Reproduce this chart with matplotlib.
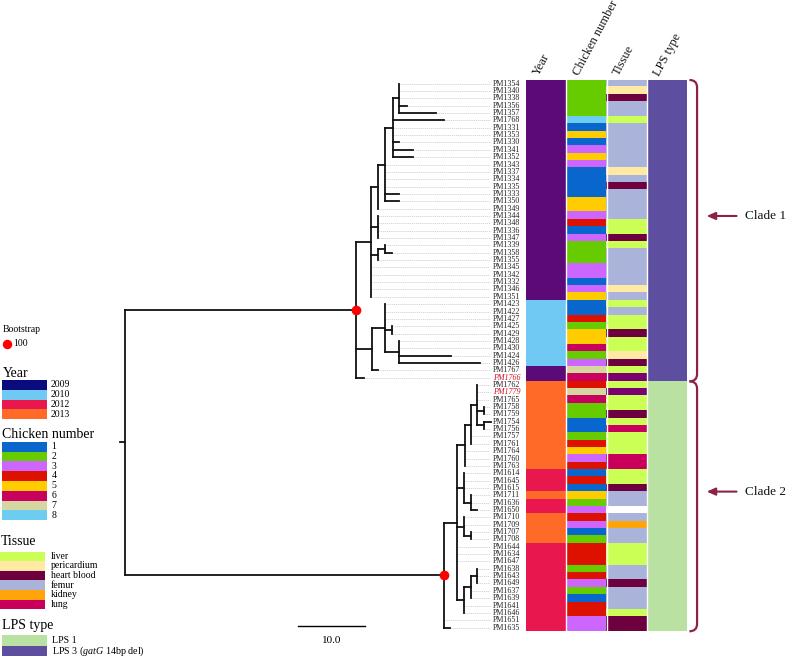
import matplotlib
matplotlib.use("Agg")
import matplotlib.pyplot as plt
import matplotlib.colors as mcolors
from matplotlib.collections import LineCollection
from matplotlib.path import Path
from matplotlib.patches import PathPatch, Rectangle
import numpy as np

plt.rcParams['font.family'] = ['Liberation Serif', 'DejaVu Serif']
plt.rcParams['mathtext.fontset'] = 'custom'
plt.rcParams['mathtext.rm'] = 'Liberation Serif'
plt.rcParams['mathtext.it'] = 'Liberation Serif:italic'

# ---------------- data ----------------
# tree, branch lengths in scale-bar units, bootstrap as internal labels
tree_newick = (
    "((("
    "((((PM1354:0,PM1340:0,PM1338:0,PM1356:1.10,PM1357:5.48):0.99,"
    "PM1768:7.66,PM1331:0,PM1353:0,PM1330:0.99,PM1341:3.07,PM1352:3.07):1.06,"
    "PM1343:0,PM1337:0,PM1334:0,PM1335:0,PM1333:2.06,PM1350:2.06):1.07,"
    "PM1349:0):1.09,"
    "(PM1344:0,PM1348:0,PM1336:0,PM1347:0):1.09,"
    "((PM1339:0,PM1358:1.04):1.04,PM1355:0):1.09,"
    "PM1345:0,PM1342:0,PM1332:0,PM1346:0,PM1351:0):2.24,"
    "((PM1423:0,PM1422:0,PM1427:0,(PM1425:0,PM1429:0):1.09,"
    "(PM1428:0,PM1430:0,PM1424:7.67,PM1426:12.04):2.12):1.99,PM1767:0.99):2.34,"
    "PM1766:1.19)100:34.48,"
    "(("
    "(((PM1762:0,PM1779:0,PM1765:0,(PM1758:0,PM1759:0):1.0,(PM1754:1.04,PM1756:0):1.0):0.9,"
    "PM1757:0,PM1761:0):1.0,PM1764:0,PM1760:0,PM1763:0):1.10,"
    "(PM1614:0,PM1645:0,PM1615:0,(PM1711:0,PM1636:0,PM1650:0.99):1.0):1.0,"
    "(PM1710:0,PM1709:0,(PM1707:0,PM1708:0):1.0):1.0,"
    "PM1644:0,PM1634:0,PM1647:0,"
    "(((PM1638:0,PM1643:0,PM1649:0):1.0,PM1637:0,PM1639:0):1.0,PM1641:0,PM1646:0):1.0"
    "):2.06,PM1651:0,PM1635:1.04)100:47.54"
    "):0.75;"
)

isolates = [
    'PM1354', 'PM1340', 'PM1338', 'PM1356', 'PM1357', 'PM1768', 'PM1331', 'PM1353', 'PM1330', 'PM1341',
    'PM1352', 'PM1343', 'PM1337', 'PM1334', 'PM1335', 'PM1333', 'PM1350', 'PM1349', 'PM1344', 'PM1348',
    'PM1336', 'PM1347', 'PM1339', 'PM1358', 'PM1355', 'PM1345', 'PM1342', 'PM1332', 'PM1346', 'PM1351',
    'PM1423', 'PM1422', 'PM1427', 'PM1425', 'PM1429', 'PM1428', 'PM1430', 'PM1424', 'PM1426', 'PM1767',
    'PM1766', 'PM1762', 'PM1779', 'PM1765', 'PM1758', 'PM1759', 'PM1754', 'PM1756', 'PM1757', 'PM1761',
    'PM1764', 'PM1760', 'PM1763', 'PM1614', 'PM1645', 'PM1615', 'PM1711', 'PM1636', 'PM1650', 'PM1710',
    'PM1709', 'PM1707', 'PM1708', 'PM1644', 'PM1634', 'PM1647', 'PM1638', 'PM1643', 'PM1649', 'PM1637',
    'PM1639', 'PM1641', 'PM1646', 'PM1651', 'PM1635']
highlighted = ['PM1766', 'PM1779']

year = [
    2009, 2009, 2009, 2009, 2009, 2009, 2009, 2009, 2009, 2009,
    2009, 2009, 2009, 2009, 2009, 2009, 2009, 2009, 2009, 2009,
    2009, 2009, 2009, 2009, 2009, 2009, 2009, 2009, 2009, 2009,
    2010, 2010, 2010, 2010, 2010, 2010, 2010, 2010, 2010, 2009,
    2009, 2013, 2013, 2013, 2013, 2013, 2013, 2013, 2013, 2013,
    2013, 2013, 2013, 2012, 2012, 2012, 2013, 2012, 2012, 2013,
    2013, 2013, 2013, 2012, 2012, 2012, 2012, 2012, 2012, 2012,
    2012, 2012, 2012, 2012, 2012]

chicken = [
    2, 2, 2, 2, 2, 8, 1, 5, 1, 3,
    5, 3, 1, 1, 1, 1, 5, 5, 3, 4,
    1, 3, 2, 2, 2, 3, 3, 1, 3, 5,
    1, 1, 4, 2, 5, 5, 6, 2, 3, 7,
    6, 4, 7, 6, 2, 2, 1, 1, 2, 4,
    5, 3, 4, 1, 4, 1, 5, 2, 3, 4,
    3, 1, 2, 4, 4, 4, 2, 4, 3, 2,
    1, 4, 4, 3, 3]

tissue = [
    'femur', 'pericardium', 'heart blood', 'femur', 'femur', 'liver', 'femur', 'femur', 'femur', 'femur',
    'femur', 'femur', 'pericardium', 'femur', 'heart blood', 'femur', 'femur', 'femur', 'femur', 'liver',
    'liver', 'heart blood', 'liver', 'femur', 'femur', 'femur', 'femur', 'femur', 'pericardium', 'femur',
    'liver', 'femur', 'liver', 'liver', 'heart blood', 'liver', 'liver', 'pericardium', 'heart blood', 'liver',
    'other', 'liver', 'other', 'liver', 'liver', 'heart blood', 'liver', 'lung', 'liver', 'liver',
    'liver', 'lung', 'lung', 'liver', 'liver', 'heart blood', 'femur', 'femur', 'none', 'femur',
    'kidney', 'femur', 'femur', 'liver', 'liver', 'liver', 'femur', 'femur', 'heart blood', 'femur',
    'femur', 'femur', 'liver', 'heart blood', 'heart blood']

lps = [3] * 41 + [1] * 34
clade_names = ['Clade 1', 'Clade 2']
clade_sizes = [41, 34]

year_colors = {2009: '#5c0a78', 2010: '#70c9f2', 2012: '#e8174d', 2013: '#ff6a28'}
year_legend = [2009, 2010, 2012, 2013]
year_swatch = ['#0b0b80', '#70c9f2', '#e8174d', '#ff6a28']
chicken_colors = {1: '#0866cc', 2: '#66cc00', 3: '#cc66ff', 4: '#dd1100',
                  5: '#ffcc00', 6: '#c8005e', 7: '#d6d6a0', 8: '#6ccdf0'}
tissue_colors = {'liver': '#ccff55', 'pericardium': '#ffe9a3', 'heart blood': '#6e0040',
                 'femur': '#aab3d9', 'kidney': '#ffa50a', 'lung': '#c8005c',
                 'other': '#7a0072', 'none': '#ffffff'}
tissue_legend = ['liver', 'pericardium', 'heart blood', 'femur', 'kidney', 'lung']
lps_colors = {1: '#b9e2a2', 3: '#5e4ea0'}
lps_legend = [(1, 'LPS 1'), (3, r'LPS 3 ($\it{gatG}$ 14bp del)')]
headers = ['Year', 'Chicken number', 'Tissue', 'LPS type']


# ---------------- tree parsing / layout ----------------
def parse_newick(s):
    pos = 0

    def node():
        nonlocal pos
        kids = []
        if s[pos] == '(':
            pos += 1
            while True:
                kids.append(node())
                if s[pos] == ',':
                    pos += 1
                    continue
                pos += 1
                break
        start = pos
        while pos < len(s) and s[pos] not in ',();':
            pos += 1
        name, _, length = s[start:pos].partition(':')
        return {'name': name, 'len': float(length or 0), 'children': kids}

    return node()


root = parse_newick(tree_newick)
segments, tips, support = [], [], []


def layout(nd, x_parent):
    x = x_parent + nd['len']
    if nd['children']:
        ys = [layout(c, x) for c in nd['children']]
        y = (ys[0] + ys[-1]) / 2
        segments.append([(x, ys[0]), (x, ys[-1])])
        if nd['name']:
            support.append((x, y, nd['name']))
    else:
        y = len(tips)
        tips.append((nd['name'], x))
    segments.append([(x_parent, y), (x, y)])
    return y


layout(root, -root['len'])
assert [t[0] for t in tips] == isolates

# ---------------- figure ----------------
W, H = 787, 658
fig = plt.figure(figsize=(W / 100, H / 100), dpi=100)


def box(x0, y0, x1, y1):
    return [x0 / W, 1 - y1 / H, (x1 - x0) / W, (y1 - y0) / H]


n = len(isolates)
ROW_TOP, ROW_H = 80, 7.35
row_bottom = ROW_TOP + n * ROW_H

# legend layer in pixel coordinates
lg = fig.add_axes([0, 0, 1, 1])
lg.set_xlim(0, W)
lg.set_ylim(H, 0)
lg.axis('off')

# tree
PX_UNIT, ROOT_PX = 6.7, 125
tx0, tx1 = 100, 525
tr = fig.add_axes(box(tx0, ROW_TOP, tx1, row_bottom))
tr.set_xlim((tx0 - ROOT_PX) / PX_UNIT, (tx1 - ROOT_PX) / PX_UNIT)
tr.set_ylim(n - 0.5, -0.5)
tr.axis('off')

leader_end = (490 - ROOT_PX) / PX_UNIT
label_x = (493 - ROOT_PX) / PX_UNIT
for i, (name, x) in enumerate(tips):
    tr.plot([x, leader_end], [i, i], color='#cfcfcf', lw=0.6, ls=(0, (1.5, 1)), zorder=1)
    if name in highlighted:
        tr.text(label_x, i, name, fontsize=5.8, color='#d01020', style='italic', va='center', ha='left')
    else:
        tr.text(label_x, i, name, fontsize=5.8, color='#222222', va='center', ha='left')

tr.add_collection(LineCollection(segments, colors='#111111', linewidths=1.3,
                                 capstyle='projecting', zorder=3))
for x, y, s in support:
    if s == '100':
        tr.plot(x, y, 'o', color='#ff0000', ms=7, mec='none', zorder=5)

# scale bar
sb_x, sb_y = 25.8, 73.8
tr.plot([sb_x, sb_x + 10], [sb_y, sb_y], color='black', lw=1)
tr.text(sb_x + 5, sb_y + 2.0, '10.0', fontsize=8, ha='center', va='center', clip_on=False)

# colour strips
sx0, sx1 = 526, 687
st = fig.add_axes(box(sx0, ROW_TOP, sx1, row_bottom))
img = np.array([[mcolors.to_rgb(year_colors[a]), mcolors.to_rgb(chicken_colors[b]),
                 mcolors.to_rgb(tissue_colors[c]), mcolors.to_rgb(lps_colors[d])]
                for a, b, c, d in zip(year, chicken, tissue, lps)])
st.imshow(img, aspect='auto', interpolation='nearest', extent=(0, 4, n - 0.5, -0.5))
st.set_xlim(0, 4)
st.set_ylim(n - 0.5, -0.5)
for k in (1, 2, 3):
    st.axvline(k, color='white', lw=1)
st.axis('off')

for k, h in enumerate(headers):
    st.text(k + 0.25, -1.2, h, rotation=62, rotation_mode='anchor', ha='left', va='center',
            fontsize=9, color='#111111', clip_on=False)

# clade brackets and arrows
bc = '#8c2342'
start = 0
for name, size in zip(clade_names, clade_sizes):
    top, bot = start - 0.5, start + size - 0.5
    bx, hx = 4.25, 4.06
    verts = [(hx, top), (bx, top), (bx, top + 1.0), (bx, bot - 1.0), (bx, bot), (hx, bot)]
    codes = [Path.MOVETO, Path.CURVE3, Path.CURVE3, Path.LINETO, Path.CURVE3, Path.CURVE3]
    st.add_patch(PathPatch(Path(verts, codes), fill=False, ec=bc, lw=1.6, clip_on=False))
    ay = (top + bot) / 2 - 2
    st.annotate('', xy=(4.42, ay), xytext=(5.3, ay), annotation_clip=False,
                arrowprops=dict(arrowstyle='-|>,head_length=0.5,head_width=0.22', color=bc, lw=1.5))
    st.text(5.45, ay, name, fontsize=9.5, va='center', ha='left', clip_on=False, color='#111111')
    start += size

# ---------------- legend ----------------
lg.text(3, 330, 'Bootstrap', fontsize=7, va='center')
lg.plot(7, 343.5, 'o', color='#ff0000', ms=6.8, mec='none')
lg.text(13, 343.5, '100', fontsize=7, va='center')


def legend_block(title, ty, top, box_h, x0, x1, colors, labels, lx, fs):
    lg.text(x0 + 1, ty, title, fontsize=10, va='center')
    for j, (c, lab) in enumerate(zip(colors, labels)):
        lg.add_patch(Rectangle((x0, top + j * box_h), x1 - x0, box_h, fc=c, ec='none'))
        lg.text(lx, top + (j + 0.5) * box_h, lab, fontsize=fs, va='center')


legend_block('Year', 373.5, 380, 9.8, 1.5, 46.5, year_swatch,
             [str(v) for v in year_legend], 51, 7)
legend_block('Chicken number', 434, 441.7, 9.8, 1.5, 46.5,
             [chicken_colors[k] for k in sorted(chicken_colors)],
             [str(k) for k in sorted(chicken_colors)], 51.5, 7)
legend_block('Tissue', 541.5, 551.5, 9.6, 0, 45,
             [tissue_colors[t] for t in tissue_legend], tissue_legend, 51, 7)
legend_block('LPS type', 626, 635, 10.5, 1.5, 46.5,
             [lps_colors[k] for k, _ in lps_legend], [lab for _, lab in lps_legend], 52, 7.2)

fig.savefig('out.png', dpi=100)
